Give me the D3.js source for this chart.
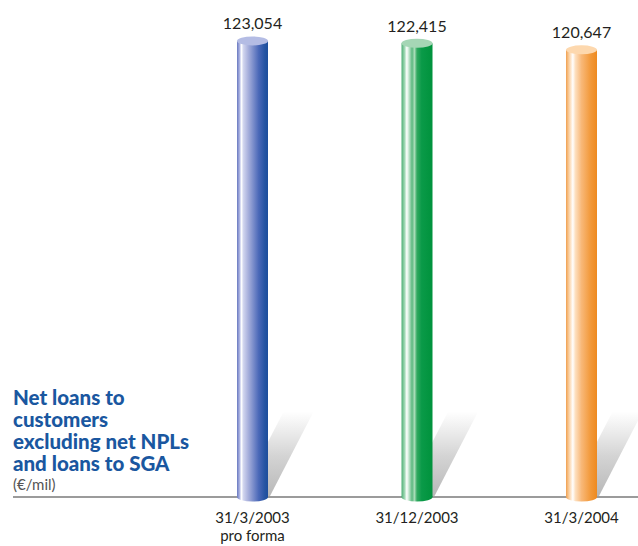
<!DOCTYPE html>
<html>
<head>
<meta charset="utf-8">
<script src="https://cdn.jsdelivr.net/npm/d3@7"></script>
<style>
  html, body { margin: 0; padding: 0; background: #fff; }
  svg { display: block; }
  text { font-family: "Lato", "Open Sans", sans-serif; }
</style>
</head>
<body>
<svg id="chart" width="638" height="546"></svg>
<script>
// Net loans to customers, €/mil
const categories = ["31/3/2003", "31/12/2003", "31/3/2004"];
const subLabels = ["pro forma", "", ""];
const values = [123054, 122415, 120647];
const valueLabels = ["123,054", "122,415", "120,647"];
const titleLines = ["Net loans to", "customers", "excluding net NPLs", "and loans to SGA"];
const unitLabel = "(€/mil)";

// cylinder shading per bar: [offset, colour]
const palettes = [
  { top: "#b4bce4", stops: [[0, "#6878c0"], [0.08, "#a8b0e0"], [0.14, "#ffffff"], [0.21, "#d0d4ee"], [0.36, "#a8b0dc"], [0.7, "#4a68b8"], [0.9, "#2554a2"], [1, "#1d4e9c"]] },
  { top: "#a5d6b5", stops: [[0, "#4fae76"], [0.1, "#a0d8b4"], [0.17, "#ffffff"], [0.25, "#b8e0c6"], [0.34, "#5cb880"], [0.42, "#a8dcb8"], [0.5, "#30a860"], [0.65, "#0a9a48"], [1, "#00923c"]] },
  { top: "#fdd8ae", stops: [[0, "#f0a050"], [0.1, "#fbd0a0"], [0.22, "#ffffff"], [0.3, "#fde0c0"], [0.5, "#f8b878"], [0.8, "#f29838"], [1, "#ee8a20"]] }
];

const svg = d3.select("#chart");
const baseY = 497;
const barW = 31;
const ry = 4.5;

const x = d3.scalePoint().domain(categories).range([252.5, 581.5]);
const y = d3.scaleLinear().domain([0, 134100]).range([baseY, 0]);

const defs = svg.append("defs");
palettes.forEach((p, i) => {
  const g = defs.append("linearGradient").attr("id", "cyl" + i)
    .attr("x1", "0%").attr("x2", "100%").attr("y1", "0%").attr("y2", "0%");
  p.stops.forEach(s => g.append("stop").attr("offset", s[0]).attr("stop-color", s[1]));
});
const sh = defs.append("linearGradient").attr("id", "shadow")
  .attr("x1", "0").attr("x2", "0").attr("y1", "1").attr("y2", "0");
sh.append("stop").attr("offset", 0).attr("stop-color", "#b8b8b8");
sh.append("stop").attr("offset", 0.45).attr("stop-color", "#d4d4d4");
sh.append("stop").attr("offset", 0.75).attr("stop-color", "#eeeeee");
sh.append("stop").attr("offset", 0.95).attr("stop-color", "#ffffff");

// baseline
svg.append("line")
  .attr("x1", 13).attr("x2", 638).attr("y1", baseY).attr("y2", baseY)
  .attr("stroke", "#7a7a7a").attr("stroke-width", 1.6);

// cast shadows behind each cylinder
svg.append("g").selectAll("polygon").data(categories).join("polygon")
  .attr("fill", "url(#shadow)")
  .attr("points", d => {
    const xr = x(d) + barW / 2;
    return [[xr - 28, baseY - 1], [xr + 2, baseY - 1], [xr + 48, baseY - 90], [xr + 18, baseY - 90]]
      .map(p => p.join(",")).join(" ");
  });

// cylinders
const bars = svg.append("g").selectAll("g").data(values).join("g");
bars.append("ellipse")
  .attr("cx", (d, i) => x(categories[i])).attr("cy", baseY)
  .attr("rx", barW / 2).attr("ry", ry)
  .attr("fill", (d, i) => `url(#cyl${i})`);
bars.append("rect")
  .attr("x", (d, i) => x(categories[i]) - barW / 2)
  .attr("y", d => y(d))
  .attr("width", barW)
  .attr("height", d => baseY - y(d))
  .attr("fill", (d, i) => `url(#cyl${i})`);
bars.append("ellipse")
  .attr("cx", (d, i) => x(categories[i])).attr("cy", d => y(d))
  .attr("rx", barW / 2).attr("ry", ry)
  .attr("fill", (d, i) => palettes[i].top);

// value labels
svg.append("g").selectAll("text").data(values).join("text")
  .attr("x", (d, i) => x(categories[i]))
  .attr("y", d => y(d) - 11.5)
  .attr("text-anchor", "middle")
  .attr("font-size", 16)
  .attr("fill", "#231f20")
  .text((d, i) => valueLabels[i]);

// category labels
const cat = svg.append("g").selectAll("text").data(categories).join("text")
  .attr("x", d => x(d))
  .attr("y", 523)
  .attr("text-anchor", "middle")
  .attr("font-size", 15)
  .attr("fill", "#231f20");
cat.append("tspan").text(d => d);
cat.append("tspan")
  .attr("x", d => x(d)).attr("dy", 18)
  .text((d, i) => subLabels[i]);

// title block
const title = svg.append("g");
title.selectAll("text").data(titleLines).join("text")
  .attr("x", 13)
  .attr("y", (d, i) => 405 + i * 22)
  .attr("font-size", 20.5)
  .attr("font-weight", 900)
  .attr("fill", "#1a57a0")
  .text(d => d);
title.append("text")
  .attr("x", 13).attr("y", 490)
  .attr("font-size", 15)
  .attr("fill", "#555")
  .text(unitLabel);
</script>
</body>
</html>
